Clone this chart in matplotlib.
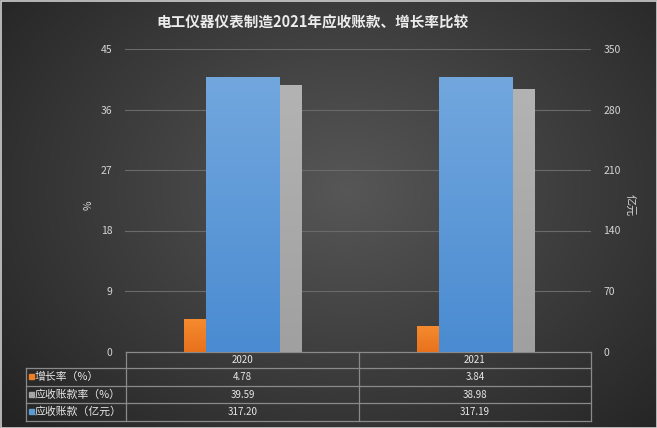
import numpy as np
import matplotlib
matplotlib.use("Agg")
import matplotlib.pyplot as plt
from matplotlib.patches import Rectangle
from matplotlib.lines import Line2D

plt.rcParams['font.family'] = ['Noto Sans CJK SC', 'DejaVu Sans']

categories = ['2020', '2021']
growth_rate = [4.78, 3.84]          # 增长率（%）
receivable_rate = [39.59, 38.98]    # 应收账款率（%）
receivables = [317.20, 317.19]      # 应收账款（亿元）
row_labels = ['增长率（%）', '应收账款率（%）', '应收账款（亿元）']
row_values = [['4.78', '3.84'], ['39.59', '38.98'], ['317.20', '317.19']]
left_ticks = [0, 9, 18, 27, 36, 45]
right_ticks = [0, 70, 140, 210, 280, 350]
title = '电工仪器仪表制造2021年应收账款、增长率比较'

W, H = 657, 428
fig = plt.figure(figsize=(W / 100, H / 100), dpi=100)

# background radial gradient
bg = fig.add_axes([0, 0, 1, 1], zorder=-10)
yy, xx = np.mgrid[0:H, 0:W]
r = np.sqrt(((xx - 345) / 430.0) ** 2 + ((yy - 190) / 330.0) ** 2)
val = np.clip(0.34 - 0.19 * r, 0.14, 0.34)
bg.imshow(np.dstack([val, val, val]), extent=[0, W, H, 0], aspect='auto')
bg.set_xlim(0, W); bg.set_ylim(H, 0); bg.axis('off')
bg.add_patch(Rectangle((0.5, 0.5), W - 1, H - 1, fill=False, ec='#cfcfcf', lw=1.2))

def fx(px): return px / W
def fy(py): return 1 - py / H

x0, x1, ytop, ybot = 125, 591, 49, 351.5
ax = fig.add_axes([fx(x0), fy(ybot), fx(x1) - fx(x0), fy(ytop) - fy(ybot)])
ax2 = ax.twinx()
for a in (ax, ax2):
    a.patch.set_alpha(0)
    for s in a.spines.values():
        s.set_visible(False)
ax.set_xlim(-0.5, 1.5)
ax.set_ylim(0, 45)
ax2.set_ylim(0, 350)
ax.set_yticks(left_ticks)
ax2.set_yticks(right_ticks)
ax.set_xticks([])
ax.tick_params(axis='y', length=0, pad=9, labelsize=7.5, labelcolor='#d4d4d4')
ax2.tick_params(axis='y', length=0, pad=9, labelsize=7.5, labelcolor='#d4d4d4')
ax.grid(axis='y', color='#6a6a6a', lw=0.8)
ax.set_axisbelow(True)

x = np.arange(len(categories))

def grad_bar(a, xs, vals, width, c_top, c_bot, z):
    bars = a.bar(xs, vals, width=width, color='none', zorder=z)
    ct = np.array(matplotlib.colors.to_rgb(c_top))
    cb = np.array(matplotlib.colors.to_rgb(c_bot))
    t = np.linspace(0, 1, 100)[:, None]
    grad = (ct * (1 - t) + cb * t)[:, None, :]
    for b in bars:
        bx, by = b.get_x(), b.get_y()
        bw, bh = b.get_width(), b.get_height()
        im = a.imshow(grad, extent=[bx, bx + bw, by, by + bh], aspect='auto',
                      origin='upper', zorder=z)
        im.set_clip_path(b)
    a.set_xlim(-0.5, 1.5)
    return bars

grad_bar(ax, x - 0.201, growth_rate, 0.092, '#f68a2e', '#e8721c', 3)
grad_bar(ax, x + 0.212, receivable_rate, 0.094, '#b3b3b3', '#a0a0a0', 3)
grad_bar(ax2, x + 0.007, receivables, 0.315, '#72a7de', '#4a8bd1', 4)
ax.set_ylim(0, 45); ax2.set_ylim(0, 350)

# title and axis labels
fig.text(fx(312), fy(22), title, ha='center', va='center', fontsize=10.5,
         fontweight='bold', color='#ececec')
fig.text(fx(89), fy(205), '%', ha='center', va='center', rotation=90,
         fontsize=7.5, color='#d4d4d4')
fig.text(fx(630), fy(205), '亿元', ha='center', va='center', rotation=270,
         fontsize=8, color='#d4d4d4')

# data table
lc = '#8a8a8a'
tx0, tc1, tc2, tc3 = 26, 126, 359, 591
rows_y = [352, 368, 386, 403, 421]
def hline(y, xa, xb):
    bg.add_line(Line2D([xa, xb], [y, y], color=lc, lw=0.9))
def vline(xv, ya, yb):
    bg.add_line(Line2D([xv, xv], [ya, yb], color=lc, lw=0.9))
hline(rows_y[0], tc1, tc3)
for yv in rows_y[1:]:
    hline(yv, tx0, tc3)
vline(tx0, rows_y[1], rows_y[-1])
for xv in (tc1, tc2, tc3):
    vline(xv, rows_y[0], rows_y[-1])

tcol = '#e8e8e8'
col_centers = [(tc1 + tc2) / 2, (tc2 + tc3) / 2]
for cx, cat in zip(col_centers, categories):
    bg.text(cx, (rows_y[0] + rows_y[1]) / 2, cat, ha='center', va='center',
            fontsize=7, color=tcol)
key_colors = ['#f07f24', '#a5a5a5', '#5b9bd5']
for i, (lab, vals) in enumerate(zip(row_labels, row_values)):
    yc = (rows_y[i + 1] + rows_y[i + 2]) / 2
    bg.add_patch(Rectangle((28.5, yc - 3), 5, 5, color=key_colors[i]))
    bg.text(35, yc, lab, ha='left', va='center', fontsize=7.8, color=tcol)
    for cx, v in zip(col_centers, vals):
        bg.text(cx, yc, v, ha='center', va='center', fontsize=7, color=tcol)

fig.savefig('out.png', dpi=100)
